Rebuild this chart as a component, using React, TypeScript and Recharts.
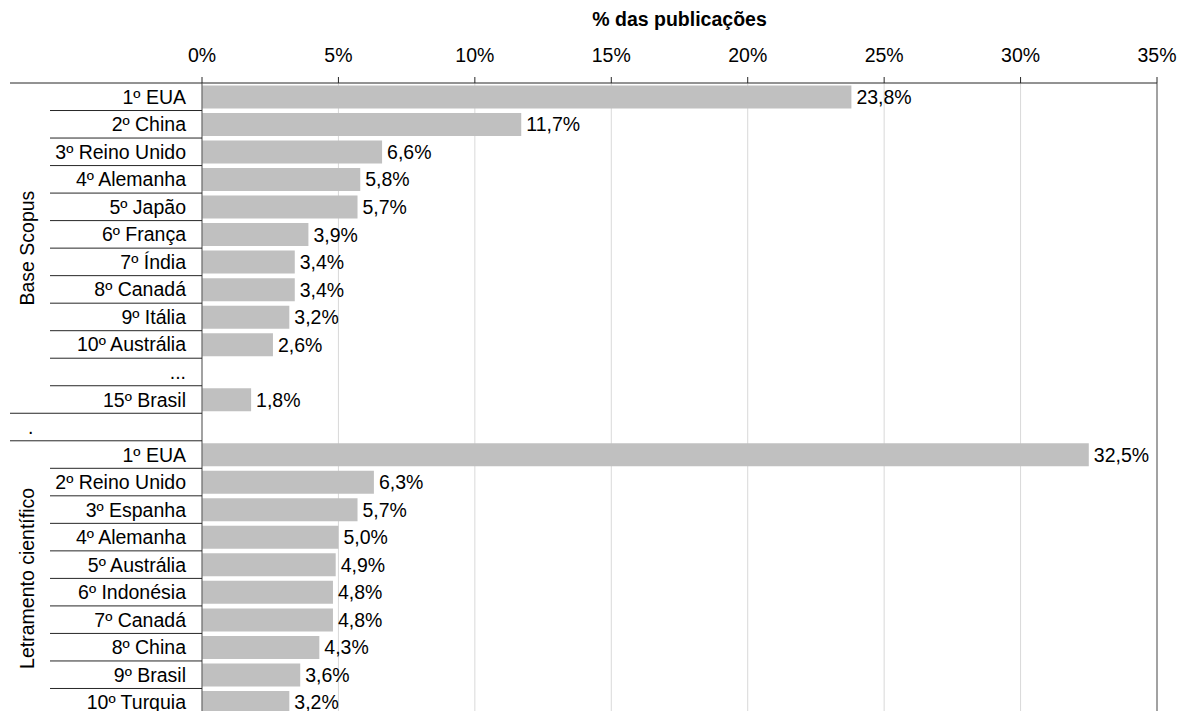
import React from 'react';
import { BarChart, Bar, XAxis, YAxis, CartesianGrid, ReferenceLine, LabelList } from 'recharts';

// Ranking por % das publicações
const scopusCountries = [
  '1º EUA', '2º China', '3º Reino Unido', '4º Alemanha', '5º Japão', '6º França',
  '7º Índia', '8º Canadá', '9º Itália', '10º Austrália', '...', '15º Brasil',
];
const scopusValues = [23.8, 11.7, 6.6, 5.8, 5.7, 3.9, 3.4, 3.4, 3.2, 2.6, null, 1.8];

const letramentoCountries = [
  '1º EUA', '2º Reino Unido', '3º Espanha', '4º Alemanha', '5º Austrália',
  '6º Indonésia', '7º Canadá', '8º China', '9º Brasil', '10º Turquia',
];
const letramentoValues = [32.5, 6.3, 5.7, 5.0, 4.9, 4.8, 4.8, 4.3, 3.6, 3.2];

const groupNames = ['Base Scopus', 'Letramento científico'];
const xTicks = [0, 5, 10, 15, 20, 25, 30, 35];

const labels = [...scopusCountries, '.', ...letramentoCountries];
const values = [...scopusValues, null, ...letramentoValues];
const chartData = labels.map((name, i) => ({ key: `r${i}`, name, value: values[i] }));

const FONT = '"Liberation Sans", Arial, sans-serif';
const FS = 19.5;
const WIDTH = 1178;
const HEIGHT = 720;
const MARGIN = { top: 43, right: 21, bottom: 4, left: 0 };
const PLOT_LEFT = 202;
const ROW_H = (HEIGHT - 83 - MARGIN.bottom) / labels.length;

const scopusEnd = scopusCountries.length - 1; // index of 15º Brasil
const dotIndex = scopusCountries.length;

const fmt = (v: any) => (v === null || v === undefined ? '' : `${Number(v).toFixed(1).replace('.', ',')}%`);

const YTick = ({ y, payload }: any) => {
  const i = payload.index;
  const name = labels[i];
  const bottom = y + ROW_H / 2;
  const wideLine = i === scopusEnd || i === dotIndex;
  let group: React.ReactNode = null;
  if (i === 0 || i === dotIndex + 1) {
    const n = i === 0 ? scopusCountries.length : letramentoCountries.length;
    const cy = y + ((n - 1) / 2) * ROW_H;
    group = (
      <text
        x={34}
        y={cy}
        transform={`rotate(-90 34 ${cy})`}
        textAnchor="middle"
        fontSize={FS}
        fontFamily={FONT}
        fill="#000"
      >
        {i === 0 ? groupNames[0] : groupNames[1]}
      </text>
    );
  }
  return (
    <g>
      {i === 0 && <line x1={10} x2={PLOT_LEFT} y1={y - ROW_H / 2} y2={y - ROW_H / 2} stroke="#262626" />}
      <line x1={wideLine ? 10 : 50} x2={PLOT_LEFT} y1={bottom} y2={bottom} stroke="#262626" />
      <text
        x={name === '.' ? 28 : 186}
        y={y}
        dy="0.36em"
        textAnchor={name === '.' ? 'start' : 'end'}
        fontSize={FS}
        fontFamily={FONT}
        fill="#000"
      >
        {name}
      </text>
      {group}
    </g>
  );
};

const XTick = ({ x, payload }: any) => (
  <text x={x} y={62} textAnchor="middle" fontSize={FS} fontFamily={FONT} fill="#000">
    {`${payload.value}%`}
  </text>
);

export default function App() {
  return (
    <div style={{ position: 'absolute', left: 0, top: 0, width: WIDTH, height: 711, overflow: 'hidden', background: '#fff' }}>
      <BarChart
        width={WIDTH}
        height={HEIGHT}
        data={chartData}
        layout="vertical"
        margin={MARGIN}
        barCategoryGap="9%"
      >
        <CartesianGrid horizontal={false} stroke="#d9d9d9" />
        <XAxis
          type="number"
          orientation="top"
          domain={[0, 35]}
          ticks={xTicks}
          height={40}
          tickSize={6}
          tick={<XTick />}
          stroke="#262626"
          interval={0}
          label={{
            value: '% das publicações',
            position: 'top',
            offset: 17,
            fontSize: FS,
            fontWeight: 'bold',
            fontFamily: FONT,
            fill: '#000',
          }}
        />
        <YAxis
          type="category"
          dataKey="key"
          width={PLOT_LEFT}
          interval={0}
          tickLine={false}
          tick={<YTick />}
          stroke="#595959"
        />
        <ReferenceLine x={35} stroke="#595959" ifOverflow="visible" />
        <Bar dataKey="value" fill="#c0c0c0" isAnimationActive={false}>
          <LabelList
            dataKey="value"
            position="right"
            offset={5}
            formatter={fmt}
            fontSize={FS}
            fontFamily={FONT}
            fill="#000"
          />
        </Bar>
      </BarChart>
    </div>
  );
}
